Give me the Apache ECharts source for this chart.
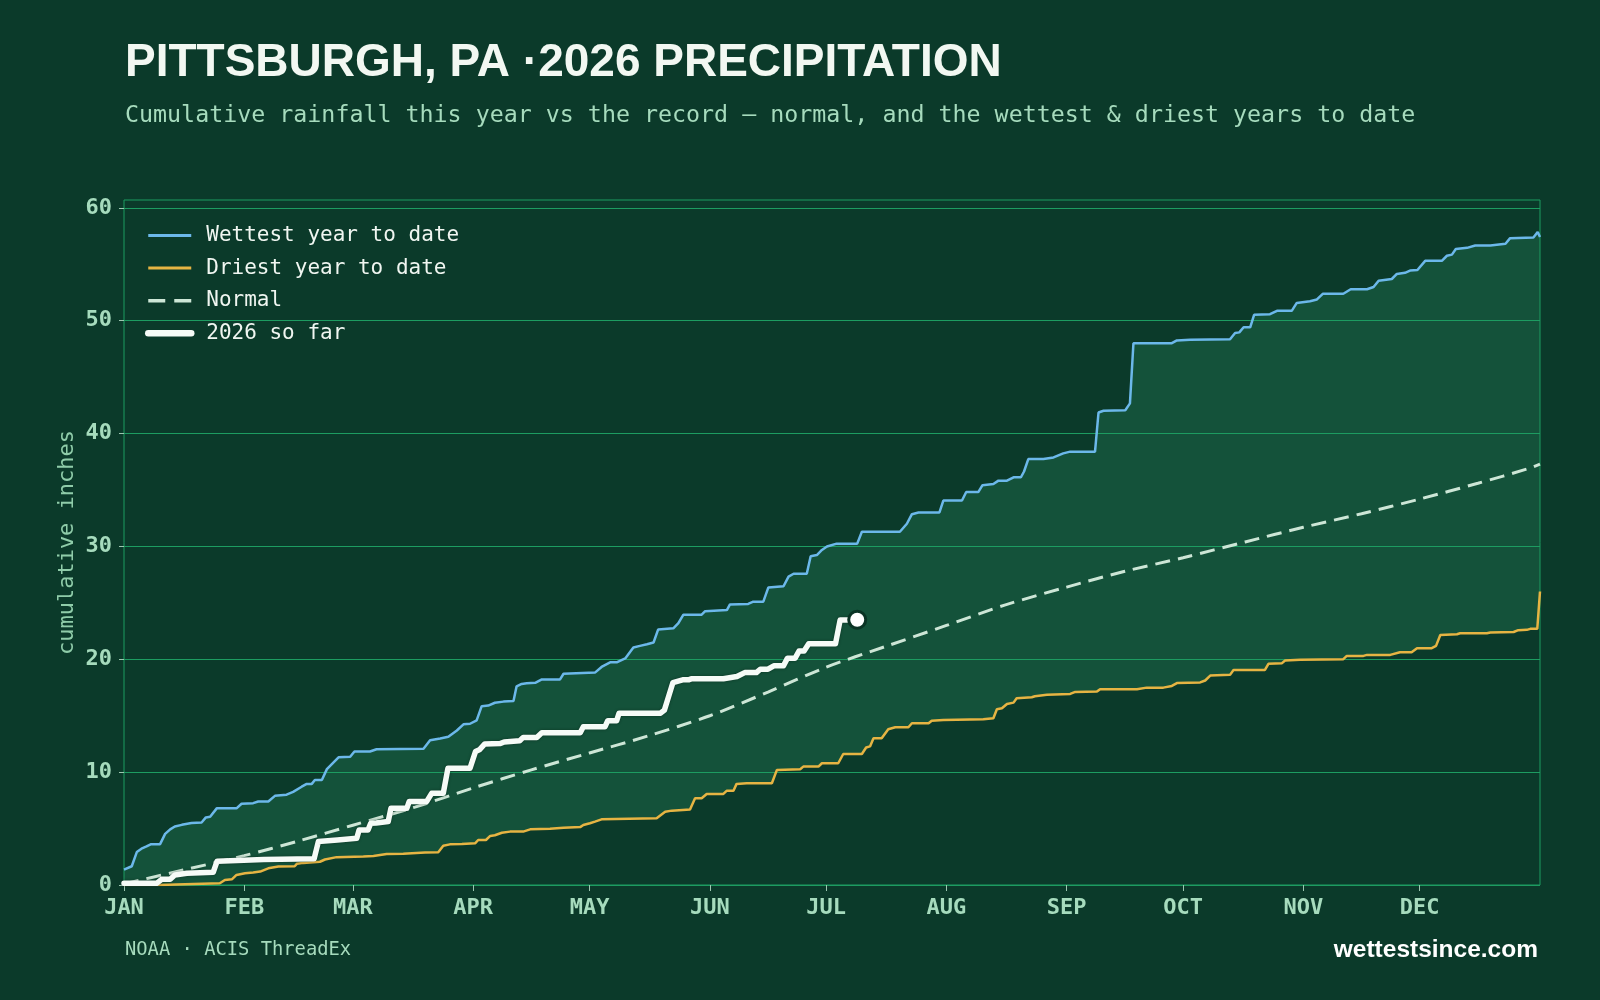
<!DOCTYPE html>
<html>
<head>
<meta charset="utf-8">
<title>Pittsburgh 2026 precipitation</title>
<script src="https://cdn.jsdelivr.net/npm/echarts@6/dist/echarts.min.js"></script>
<style>
    html, body { margin: 0; padding: 0; background: #0b3a2a; }
    #main { width: 1600px; height: 1000px; }
</style>
</head>
<body>
<div id="main"></div>
<script>
// month ticks (day of year, 0 = Jan 1)
var monthStarts = [0, 31, 59, 90, 120, 151, 181, 212, 243, 273, 304, 334];
var monthNames = ['JAN', 'FEB', 'MAR', 'APR', 'MAY', 'JUN', 'JUL', 'AUG', 'SEP', 'OCT', 'NOV', 'DEC'];
var yTicks = [0, 10, 20, 30, 40, 50, 60];

// [day, inches]
var wettest = [
    [0, 1.36], [2, 1.66], [3.3, 2.92], [4.5, 3.22], [5.8, 3.42], [7, 3.62], [9.3, 3.62], [10.6, 4.53], [11.9, 4.93],
    [13.1, 5.18], [14.9, 5.33], [17.4, 5.49], [20, 5.54], [21.1, 5.99], [22.2, 6.04], [23.9, 6.79], [29, 6.79],
    [30.3, 7.2], [33.3, 7.25], [34.6, 7.4], [37.2, 7.4], [38.9, 7.9], [41.9, 8.0], [43.6, 8.25], [45.8, 8.71],
    [47.1, 8.96], [48.4, 8.96], [49.2, 9.31], [51, 9.31], [52.3, 10.27], [55.3, 11.32], [58.3, 11.37], [59.4, 11.83],
    [63.4, 11.83], [65.1, 12.03], [77.2, 12.08], [78.9, 12.83], [81.5, 12.98], [83.6, 13.13], [85.8, 13.69],
    [87.5, 14.24], [89.2, 14.29], [90.9, 14.59], [92.2, 15.85], [93.9, 15.9], [95.6, 16.15], [97.8, 16.25],
    [100.4, 16.31], [101.2, 17.61], [102.5, 17.82], [103.8, 17.87], [106, 17.92], [107.7, 18.22], [112.4, 18.22],
    [113.3, 18.72], [121.4, 18.82], [123.1, 19.32], [125.3, 19.73], [127, 19.73], [129.2, 20.08], [131.3, 21.04],
    [133, 21.19], [134.8, 21.34], [136.5, 21.49], [137.7, 22.65], [141.6, 22.75], [142.9, 23.2], [144.2, 23.95],
    [148.9, 23.95], [149.8, 24.26], [155.4, 24.36], [156.2, 24.86], [160.9, 24.91], [162.2, 25.11], [164.8, 25.11],
    [166.1, 26.37], [170, 26.47], [171.3, 27.33], [172.6, 27.58], [176, 27.58], [177, 29.14], [178.6, 29.24],
    [179.9, 29.69], [181.2, 29.99], [183.7, 30.25], [189, 30.25], [190.2, 31.3], [200, 31.3], [201.8, 32.01],
    [203.1, 32.86], [204.8, 33.01], [210.2, 33.01], [211.2, 34.07], [216, 34.07], [217.1, 34.82], [220.2, 34.82],
    [221.3, 35.43], [224.1, 35.53], [225.4, 35.83], [227.6, 35.83], [229.3, 36.13], [231.2, 36.13], [232, 36.64],
    [233.1, 37.74], [237, 37.74], [239.6, 37.89], [242.1, 38.25], [243.9, 38.4], [250.3, 38.4], [251.2, 41.87],
    [252.5, 42.02], [258.1, 42.07], [259.3, 42.68], [260.2, 48.01], [270.1, 48.01], [271.4, 48.26], [274.8, 48.31],
    [285.1, 48.36], [286.4, 48.92], [287.5, 48.97], [288.6, 49.42], [290.3, 49.42], [291.3, 50.53], [295.4, 50.58],
    [297.2, 50.88], [301, 50.88], [302.3, 51.58], [305.7, 51.73], [307.5, 51.89], [309, 52.39], [314.3, 52.39],
    [316.2, 52.79], [320.4, 52.79], [322.1, 52.99], [323.4, 53.55], [326.8, 53.7], [328.1, 54.15], [330.2, 54.25],
    [331.5, 54.45], [333.4, 54.5], [335.4, 55.31], [339.7, 55.31], [341, 55.76], [342.3, 55.86], [343.3, 56.36],
    [346.2, 56.46], [348.3, 56.67], [352.2, 56.67], [356.1, 56.82], [357.3, 57.32], [363.3, 57.37], [364.4, 57.87],
    [365, 57.42]
];

var driest = [
    [0, 0], [9, 0], [9.3, 0.08], [24.7, 0.15], [26, 0.45], [27.8, 0.5], [29, 0.89], [31.2, 1.04], [33.3, 1.1],
    [35.1, 1.19], [37.2, 1.48], [39.8, 1.63], [44, 1.66], [44.6, 1.89], [46.2, 1.96], [50.5, 2.06], [51.8, 2.26],
    [54.8, 2.47], [61.7, 2.52], [64.3, 2.57], [67.7, 2.75], [72, 2.77], [77.6, 2.87], [81, 2.9], [82.3, 3.47],
    [84, 3.6], [87.1, 3.64], [90.5, 3.69], [91.3, 3.99], [93.3, 3.99], [94.4, 4.35], [95.6, 4.41], [97.4, 4.63],
    [99.5, 4.73], [102.9, 4.73], [104.7, 4.93], [109.8, 4.99], [113.3, 5.08], [117.6, 5.13], [118.4, 5.31],
    [120.1, 5.47], [121.4, 5.62], [123.1, 5.82], [137.3, 5.91], [139.5, 6.49], [141.2, 6.59], [145.9, 6.7],
    [147.2, 7.69], [148.9, 7.69], [150.2, 8.07], [154.5, 8.07], [155.4, 8.36], [157.1, 8.36], [157.9, 8.96],
    [160.5, 9.02], [167, 9.02], [168.3, 10.2], [174.3, 10.26], [175.1, 10.49], [179, 10.49], [179.9, 10.79],
    [184.1, 10.79], [185.4, 11.61], [190.2, 11.61], [191.3, 12.18], [192.3, 12.28], [193.2, 13.0], [195.3, 13.0],
    [197, 13.8], [198.8, 13.98], [202.2, 13.98], [203.1, 14.33], [207.4, 14.33], [208.2, 14.56], [211.2, 14.62],
    [221.5, 14.68], [224.1, 14.78], [225, 15.58], [226.3, 15.66], [227.6, 16.04], [229.3, 16.16], [230.1, 16.55],
    [234, 16.64], [234.8, 16.73], [237.9, 16.85], [243.9, 16.93], [245.2, 17.11], [250.8, 17.14], [251.6, 17.35],
    [261.1, 17.35], [263.6, 17.49], [267.9, 17.49], [270.1, 17.64], [271.4, 17.89], [277.4, 17.95], [278.7, 18.12],
    [280, 18.56], [285.1, 18.62], [286, 19.06], [294.1, 19.06], [295, 19.6], [298.5, 19.66], [299.3, 19.89],
    [303.2, 19.95], [314.3, 20.01], [315.2, 20.3], [319.5, 20.3], [320.4, 20.39], [326.4, 20.39], [328.9, 20.63],
    [331.9, 20.63], [333.3, 20.99], [337.1, 20.99], [338.2, 21.19], [339.3, 22.16], [343.6, 22.22], [344.4, 22.31],
    [351.3, 22.31], [352.2, 22.37], [358.2, 22.42], [359.4, 22.58], [361.6, 22.61], [362.5, 22.7], [364.3, 22.7],
    [365, 26.01]
];

var normal = [
    [0, 0.1], [15, 1.3], [31, 2.6], [45, 3.9], [59, 5.3], [75, 6.9], [90, 8.6], [105, 10.2], [120, 11.7],
    [135, 13.2], [151, 15.0], [166, 17.1], [181, 19.3], [196, 21.1], [212, 23.0], [227, 24.8], [243, 26.4],
    [258, 27.8], [273, 29.0], [289, 30.4], [304, 31.7], [319, 32.9], [334, 34.2], [349, 35.6], [362, 36.9],
    [365, 37.3]
];

var thisYear = [
    [0, 0.15], [8.4, 0.15], [9.7, 0.5], [11.9, 0.5], [13.1, 0.89], [16.2, 1.04], [23, 1.13], [24, 2.11],
    [36, 2.26], [49, 2.32], [50.1, 3.85], [50.5, 3.99], [55, 3.99], [55.5, 4.14], [60, 4.14], [60.6, 4.87],
    [62.9, 4.87], [63.6, 5.47], [65, 5.49], [65.5, 5.62], [68.1, 5.62], [68.8, 6.79], [72.9, 6.79], [73.5, 7.39],
    [78, 7.39], [79.3, 8.12], [82.3, 8.12], [83.5, 10.35], [89.2, 10.35], [90.6, 11.82], [91.6, 11.98], [93, 12.5],
    [97, 12.53], [98, 12.68], [102, 12.78], [102.9, 13.08], [106.4, 13.08], [107.7, 13.5], [117.6, 13.5],
    [118.4, 14.03], [124, 14.03], [124.7, 14.56], [127, 14.56], [127.6, 15.22], [138.3, 15.22], [139.3, 15.5],
    [141.5, 17.94], [144, 18.18], [145.5, 18.18], [146.2, 18.27], [154.5, 18.27], [158, 18.47], [160, 18.82],
    [163, 18.82], [164, 19.12], [166, 19.12], [167.5, 19.42], [170, 19.42], [171, 20.1], [173, 20.1], [174, 20.73],
    [175.3, 20.73], [176.5, 21.37], [183.4, 21.37], [184.6, 23.49], [186.7, 23.49]
];
var latest = [[189, 23.5]];

var BG = '#0b3a2a';
var GRID = '#1d9c61';
var MINT = '#a6dbbd';
var BLUE = '#6cb8ea';
var GOLD = '#e6b443';
var PALE = '#cde6d6';
var WHITE = '#f6fbf7';

var myChart = echarts.init(document.getElementById('main'));

option = {
    backgroundColor: BG,
    animation: false,
    graphic: [
        {
            type: 'text', left: 125, top: 40,
            style: {
                text: 'PITTSBURGH, PA \u00b72026 PRECIPITATION',
                fill: '#f2f8f2', font: 'bold 46px "Liberation Sans", Arial, sans-serif'
            }
        },
        {
            type: 'text', left: 125, top: 104,
            style: {
                text: 'Cumulative rainfall this year vs the record \u2014 normal, and the wettest & driest years to date',
                fill: MINT, font: '23.3px "DejaVu Sans Mono", monospace'
            }
        },
        {
            type: 'text', left: 125, top: 941,
            style: {
                text: 'NOAA \u00b7 ACIS ThreadEx',
                fill: MINT, font: '18.8px "DejaVu Sans Mono", monospace'
            }
        },
        {
            type: 'text', right: 62, top: 938,
            style: {
                text: 'wettestsince.com',
                fill: '#ffffff', font: 'bold 24.5px "Liberation Sans", Arial, sans-serif'
            }
        }
    ],
    legend: {
        orient: 'vertical',
        left: 140,
        top: 220,
        itemWidth: 43,
        itemHeight: 14,
        itemGap: 11.6,
        data: [
            {name: 'Wettest year to date', lineStyle: {color: BLUE, width: 3}},
            {name: 'Driest year to date', lineStyle: {color: GOLD, width: 3}},
            {name: 'Normal', lineStyle: {color: PALE, width: 3.5, type: [17, 9]}},
            {name: '2026 so far', lineStyle: {color: WHITE, width: 6.5, cap: 'round'}}
        ],
        // hide the circle that line series put in the middle of the legend icon
        itemStyle: {color: 'rgba(0,0,0,0)', borderWidth: 0, opacity: 0},
        textStyle: {
            color: '#f0f6f1',
            fontFamily: 'DejaVu Sans Mono',
            fontSize: 21,
            padding: [0, 0, 0, 10]
        }
    },
    grid: {
        left: 124,
        right: 60,
        top: 200,
        bottom: 115,
        show: true,
        z: 3,
        borderColor: GRID,
        borderWidth: 1,
        backgroundColor: 'transparent'
    },
    xAxis: {
        type: 'value',
        min: 0,
        max: 365,
        z: 3,
        axisLine: {show: false},
        splitLine: {show: false},
        axisTick: {
            show: true,
            customValues: monthStarts,
            length: 6,
            lineStyle: {color: '#9cc7b0', width: 1}
        },
        axisLabel: {
            customValues: monthStarts,
            margin: 12,
            color: MINT,
            fontFamily: 'DejaVu Sans Mono',
            fontWeight: 'bold',
            fontSize: 22,
            formatter: function (v) {
                return monthNames[monthStarts.indexOf(Math.round(v))] || '';
            }
        }
    },
    yAxis: {
        type: 'value',
        min: 0,
        max: 60.7,
        interval: 10,
        z: 3,
        name: 'cumulative inches',
        nameLocation: 'middle',
        nameRotate: 90,
        nameGap: 46,
        nameMoveOverlap: false,
        nameTextStyle: {
            color: '#8fcca9',
            fontFamily: 'DejaVu Sans Mono',
            fontSize: 22
        },
        axisLine: {show: false},
        axisTick: {
            show: true,
            customValues: yTicks,
            length: 5,
            lineStyle: {color: '#9cc7b0', width: 1}
        },
        splitLine: {
            show: true,
            lineStyle: {color: GRID, width: 1.2}
        },
        axisLabel: {
            customValues: yTicks,
            margin: 12,
            color: MINT,
            fontFamily: 'DejaVu Sans Mono',
            fontWeight: 'bold',
            fontSize: 22
        }
    },
    series: [
        // band between wettest and driest: wet area, then cover the part under the driest
        {
            name: 'wetFill', type: 'line', data: wettest, symbol: 'none', z: 1, silent: true,
            lineStyle: {width: 0}, areaStyle: {color: '#14523a', opacity: 1}
        },
        {
            name: 'dryFill', type: 'line', data: driest, symbol: 'none', z: 1, silent: true,
            lineStyle: {width: 0}, areaStyle: {color: BG, opacity: 1}
        },
        {
            name: 'Wettest year to date', type: 'line', data: wettest, symbol: 'none', z: 5,
            color: BLUE, lineStyle: {color: BLUE, width: 2.5}
        },
        {
            name: 'Driest year to date', type: 'line', data: driest, symbol: 'none', z: 5,
            color: GOLD, lineStyle: {color: GOLD, width: 2.5}
        },
        {
            name: 'Normal', type: 'line', data: normal, symbol: 'none', z: 5, smooth: 0.3,
            color: PALE, lineStyle: {color: PALE, width: 3, type: [15, 8]}
        },
        {
            name: '2026 so far', type: 'line', data: thisYear, symbol: 'none', z: 6,
            color: WHITE,
            lineStyle: {
                color: WHITE, width: 5.5, cap: 'round', join: 'round',
                shadowColor: 'rgba(0, 20, 10, 0.45)', shadowBlur: 3
            }
        },
        {
            name: 'latest', type: 'scatter', data: latest, z: 7,
            symbolSize: 17,
            itemStyle: {color: '#ffffff', opacity: 1, borderColor: '#0a3324', borderWidth: 3}
        }
    ]
};

myChart.setOption(option);
</script>
</body>
</html>
